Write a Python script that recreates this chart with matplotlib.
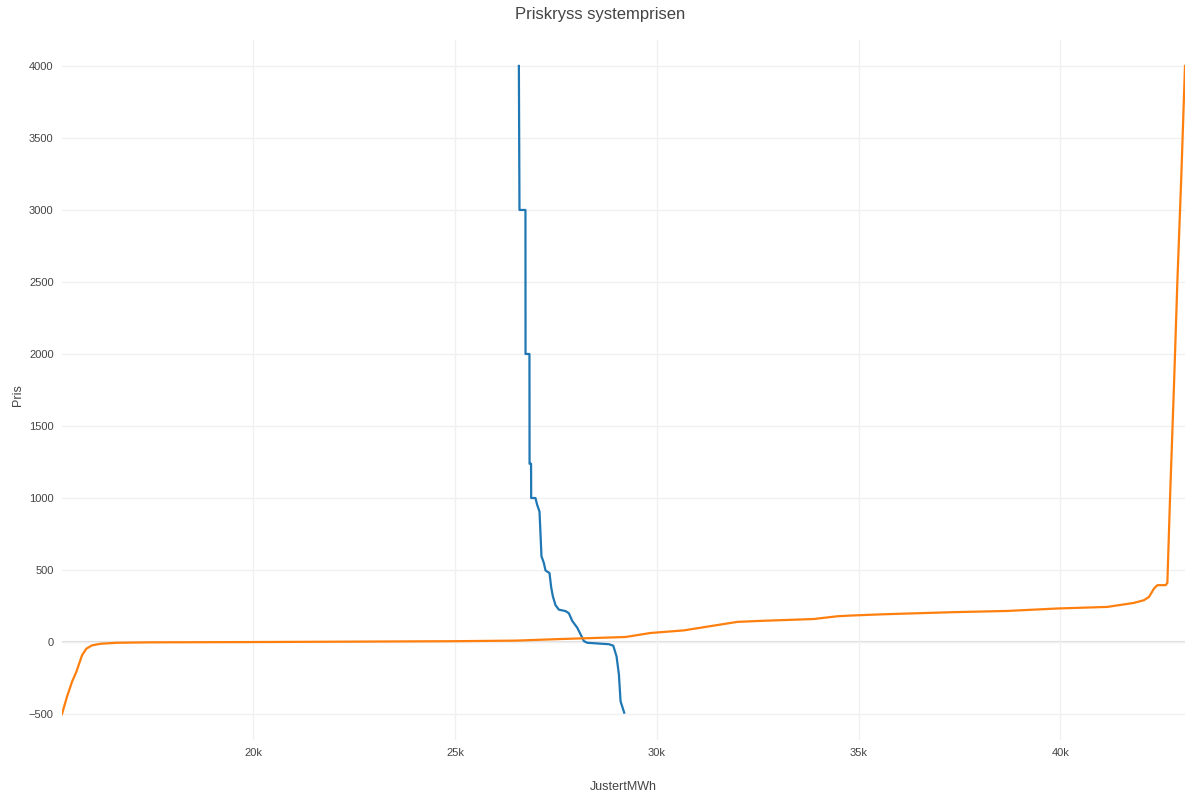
import matplotlib
matplotlib.use("Agg")
import matplotlib.pyplot as plt
from matplotlib.ticker import FuncFormatter

# demand curve (blue) - volume in MWh, price
demand_mwh = [26580, 26595, 26743, 26745, 26842, 26845, 26882, 26885, 26991,
              27033, 27091, 27116, 27140, 27198, 27240, 27339, 27381, 27422,
              27488, 27571, 27736, 27819, 27902, 28026, 28108, 28191, 28274,
              28811, 28919, 29001, 29059, 29100, 29190]
demand_pris = [4000, 3000, 3000, 2000, 2000, 1238, 1238, 1000, 1000,
               953, 906, 751, 596, 550, 497, 479, 380, 318,
               256, 225, 215, 200, 147, 100, 54, 7, -5,
               -15, -25, -100, -225, -411, -490]

# supply curve (orange)
supply_mwh = [15257, 15380, 15505, 15612, 15753, 15860, 16000, 16207, 16620,
              17447, 19926, 22500, 25000, 26500, 27611, 29222, 29841, 30668,
              31991, 32570, 33890, 34470, 34800, 35626, 37279, 38685, 39924,
              41164, 41826, 42074, 42198, 42322, 42405, 42611, 42652, 42718,
              42817, 42900, 42999, 43089]
supply_pris = [-500, -380, -276, -207, -92, -46, -23, -12, -5,
               -2, 0, 3, 6, 10, 21, 35, 63, 81,
               140, 147, 160, 179, 184, 193, 207, 216, 233,
               244, 272, 291, 314, 372, 395, 395, 412, 1000,
               1790, 2503, 3247, 4000]

y_ticks = [-500, 0, 500, 1000, 1500, 2000, 2500, 3000, 3500, 4000]
x_ticks = [20000, 25000, 30000, 35000, 40000]

plt.rcParams["font.family"] = ["Liberation Sans", "DejaVu Sans"]
text_color = "#444444"

fig = plt.figure(figsize=(12, 8), dpi=100)
ax = fig.add_axes([62 / 1200, 60 / 800, 1123 / 1200, 700 / 800])

ax.plot(demand_mwh, demand_pris, color="#1f77b4", linewidth=1.6, zorder=3)
ax.plot(supply_mwh, supply_pris, color="#ff7f0e", linewidth=1.6, zorder=3)

ax.set_xlim(supply_mwh[0], supply_mwh[-1])
ax.set_ylim(-680, 4180)
ax.set_yticks(y_ticks)
ax.set_xticks(x_ticks)
ax.xaxis.set_major_formatter(FuncFormatter(lambda v, p: f"{int(v / 1000)}k"))
ax.yaxis.set_major_formatter(FuncFormatter(lambda v, p: f"{int(v)}".replace("-", "\u2212")))

ax.grid(True, color="#f0f0f0", linewidth=1, zorder=0)
ax.axhline(0, color="#dddddd", linewidth=1.5, zorder=1)
for s in ax.spines.values():
    s.set_visible(False)
ax.tick_params(length=0, labelsize=8, labelcolor=text_color, pad=6)

fig.text(623 / 1200, 1 - 787 / 800, "JustertMWh", fontsize=9, color=text_color,
         ha="center", va="center")
fig.text(18 / 1200, 1 - 395 / 800, "Pris", fontsize=9, color=text_color,
         ha="center", va="center", rotation=90)
fig.text(600 / 1200, 1 - 15 / 800, "Priskryss systemprisen", fontsize=12,
         color=text_color, ha="center", va="center")

fig.savefig("out.png", dpi=100)
